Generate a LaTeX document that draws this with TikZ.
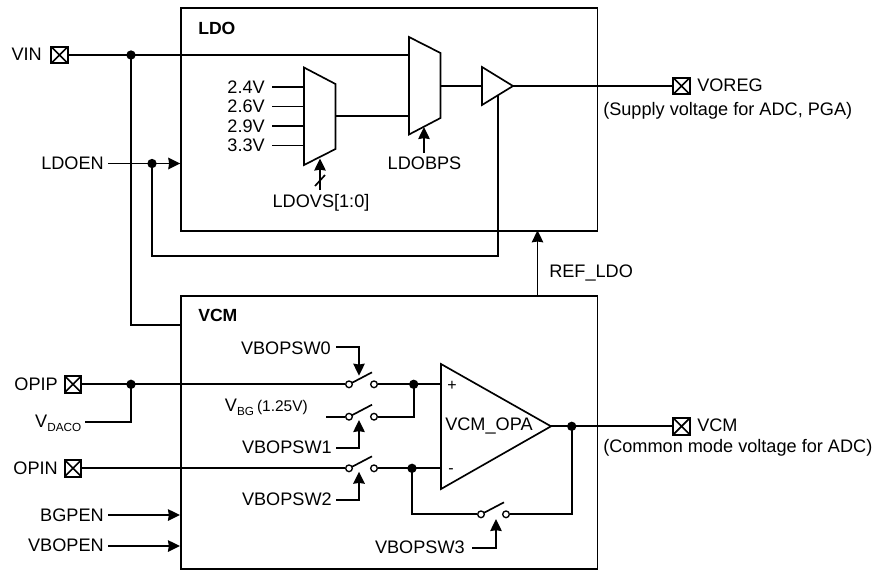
\documentclass[tikz,border=0pt]{standalone}
\usepackage{fontspec}
\setmainfont{Liberation Sans}
\usetikzlibrary{arrows.meta,calc}
\newcommand{\swt}[3]{%
  \node[swc] (#1l) at (#2,#3) {};
  \node[swc] (#1r) at (#2+25,#3) {};
  \draw[wire] ($(#1l)+(3,-1.5)$) -- ($(#1r)+(-2,-12)$);
}
\newcommand{\subs}[1]{\raisebox{-3pt}{\fontsize{8.8}{10}\selectfont #1}}
\tikzset{
  x=0.75pt,y=-0.75pt,
  wire/.style={line width=1.25pt,line cap=butt,line join=miter},
  arr/.style={wire,-{Stealth[length=9pt,width=8.6pt,inset=0.6pt]}},
  blockbox/.style={draw,line width=1.25pt,minimum width=312.3pt,inner sep=0pt,anchor=north west},
  shapeline/.style={draw,line width=1.25pt,fill=white,line join=miter},
  lbl/.style={inner sep=0pt,font=\fontsize{13.6}{16}\selectfont},
  lblr/.style={lbl,anchor=east},
  lbll/.style={lbl,anchor=west},
  title/.style={lbl,anchor=west,font=\fontsize{13.2}{16}\selectfont\bfseries},
  signlbl/.style={inner sep=0pt,font=\fontsize{12}{14}\selectfont},
  jct/.style={circle,fill=black,inner sep=0pt,minimum size=7pt},
  swc/.style={circle,draw,line width=1pt,fill=white,inner sep=0pt,minimum size=5pt},
  pad/.style={draw,line width=1.4pt,fill=white,inner sep=0pt,minimum size=12.6pt,
    path picture={\draw[line width=1.25pt] (path picture bounding box.north west)--(path picture bounding box.south east)
      (path picture bounding box.north east)--(path picture bounding box.south west);}},
}
\begin{document}
\begin{tikzpicture}
\useasboundingbox (0,0) rectangle (877,569);
% blocks
\node[blockbox,minimum height=167.2pt] (ldo) at (180.3,7.3) {};
\node[blockbox,minimum height=204.7pt] (vcm) at (180.3,295) {};
\node[title] (ldot) at (198,28) {LDO};
\node[title] (vcmt) at (198,315) {VCM};
% pads
\node[pad] (pvin) at (59.5,55) {};
\node[pad] (pvoreg) at (681.5,86) {};
\node[pad] (popip) at (73,384.3) {};
\node[pad] (popin) at (73,468.3) {};
\node[pad] (pvcm) at (681.5,426.3) {};
% pad labels
\node[lblr] (tvin) at (42,54.5) {VIN};
\node[lbll] (tvoreg) at (697,85) {VOREG};
\node[lbl,anchor=west] (tsup) at (603,110.5) {(Supply voltage for ADC, PGA)};
\node[lblr] (topip) at (58,384) {OPIP};
\node[lblr] (topin) at (58,468) {OPIN};
\node[lbll] (tvcm) at (697,425) {VCM};
\node[lbl,anchor=west] (tcom) at (603,448) {(Common mode voltage for ADC)};
% mux corners
\coordinate (m1tl) at (304,67.5); \coordinate (m1tr) at (335.5,84);
\coordinate (m1br) at (335.5,149); \coordinate (m1bl) at (304,165);
\coordinate (m2tl) at (409,37); \coordinate (m2tr) at (440.5,53);
\coordinate (m2br) at (440.5,118); \coordinate (m2bl) at (409,134.5);
\coordinate (m1o) at (335.5,116); \coordinate (m2i) at (409,116);
\coordinate (m2a) at (409,55); \coordinate (m2o) at (440.5,86);
\coordinate (ampi) at (482,86); \coordinate (ampo) at (513,86);
% LDO inputs
\node[lblr] (v24) at (265,87) {2.4V};
\node[lblr] (v26) at (265,106.5) {2.6V};
\node[lblr] (v29) at (265,126) {2.9V};
\node[lblr] (v33) at (265,145.5) {3.3V};
\foreach \y in {87,106.5,126,145.5}
  \draw[wire] (272,\y) -- (304,\y);
% VIN
\node[jct] (jvin) at (131,55) {};
\coordinate (vcmin) at (180.3,324.7);
\draw[wire] (pvin.east) -- (m2a);
\draw[wire] (jvin.center) |- (vcmin);
\draw[wire] (m1o) -- (m2i);
\draw[wire] (m2o) -- (ampi);
% enable and feedback
\node[lblr] (tldoen) at (104,163.5) {LDOEN};
\node[jct] (jen) at (152,163.5) {};
\coordinate (enst) at (108,163.5);
\coordinate (ldoin) at (180.3,163.5);
\draw[arr] (enst) -- (ldoin);
\coordinate (fb1) at (152,256);
\coordinate (fb2) at (497.7,256);
\coordinate (fb3) at (497.7,95);
\draw[wire] (jen.center) -- (fb1) -- (fb2) -- (fb3);
% amp and muxes
\draw[wire] (ampo) -- (pvoreg.west);
\draw[shapeline] (ampi |- 0,67) -- (ampo) -- (ampi |- 0,105) -- cycle;
\draw[shapeline] (m1tl) -- (m1tr) -- (m1br) -- (m1bl) -- cycle;
\draw[shapeline] (m2tl) -- (m2tr) -- (m2br) -- (m2bl) -- cycle;
% selectors
\node[lbl] (tvs) at (321,202.5) {LDOVS[1:0]};
\coordinate (vsb) at (320,190);
\coordinate (vst) at (320,158.5);
\draw[arr] (vsb) -- (vst);
\draw[wire] (315,186) -- (325,175);
\node[lbl] (tbps) at (424.5,163.5) {LDOBPS};
\coordinate (bpb) at (424,153);
\coordinate (bpt) at (424,127);
\draw[arr] (bpb) -- (bpt);
% REF
\coordinate (rb) at (537.5,295);
\coordinate (rt) at (537.5,230.3);
\draw[arr] (rb) -- (rt);
\node[lbll] (tref) at (549,273) {REF\_LDO};
% op amp
\coordinate (oa1) at (441,364); \coordinate (oa2) at (441,489); \coordinate (oao) at (551,426.3);
\coordinate (oap) at (441,384.3); \coordinate (oan) at (441,468.3);
\draw[shapeline] (oa1) -- (oao) -- (oa2) -- cycle;
\node[signlbl] (tplus) at (452,386) {+};
\node[signlbl] (tminus) at (451,471) {-};
\node[lbll] (topa) at (445,426) {VCM\_OPA};
% switches
\swt{sa}{349}{384.3}
\swt{sb}{349}{416.7}
\swt{sc}{349}{468.3}
\swt{sd}{481}{514.3}
% VCM wiring
\node[jct] (jp) at (131,384.3) {};
\node[lblr] (tdac) at (81.5,423) {V\subs{DACO}};
\coordinate (dacst) at (85,422);
\draw[wire] (dacst) -| (jp.center);
\draw[wire] (popip.east) -- (sal.west);
\node[jct] (jq) at (413.7,384.3) {};
\draw[wire] (sar.east) -- (oap);
\draw[wire] (jq.center) |- (sbr.east);
\node[lblr] (tvbg) at (308,407.5) {V\subs{BG}\,{\fontsize{11.6}{14}\selectfont (1.25V)}};
\coordinate (bgst) at (326,416.7);
\draw[wire] (bgst) -- (sbl.west);
\draw[wire] (popin.east) -- (scl.west);
\node[jct] (jn) at (412,468.3) {};
\draw[wire] (scr.east) -- (oan);
\draw[wire] (jn.center) |- (sdl.west);
\node[jct] (jo) at (571.7,426.3) {};
\draw[wire] (sdr.east) -| (jo.center);
\draw[wire] (oao) -- (pvcm.west);
% switch controls
\node[lblr] (t0) at (331,348) {VBOPSW0};
\coordinate (c0s) at (336,347); \coordinate (c0t) at (359,375.7);
\draw[arr] (c0s) -| (c0t);
\node[lblr] (t1) at (332,447) {VBOPSW1};
\coordinate (c1s) at (336,447.7); \coordinate (c1t) at (359,420);
\draw[arr] (c1s) -| (c1t);
\node[lblr] (t2) at (332,499.5) {VBOPSW2};
\coordinate (c2s) at (336,500); \coordinate (c2t) at (359,471.7);
\draw[arr] (c2s) -| (c2t);
\node[lblr] (t3) at (465,547) {VBOPSW3};
\coordinate (c3s) at (472,547.7); \coordinate (c3t) at (496,519);
\draw[arr] (c3s) -| (c3t);
% enables
\node[lblr] (tbg) at (104,515) {BGPEN};
\coordinate (bgs) at (108,515); \coordinate (bge) at (180,515);
\draw[arr] (bgs) -- (bge);
\node[lblr] (tvb) at (104,545.5) {VBOPEN};
\coordinate (vbs) at (108,546); \coordinate (vbe) at (180,546);
\draw[arr] (vbs) -- (vbe);
\end{tikzpicture}
\end{document}
